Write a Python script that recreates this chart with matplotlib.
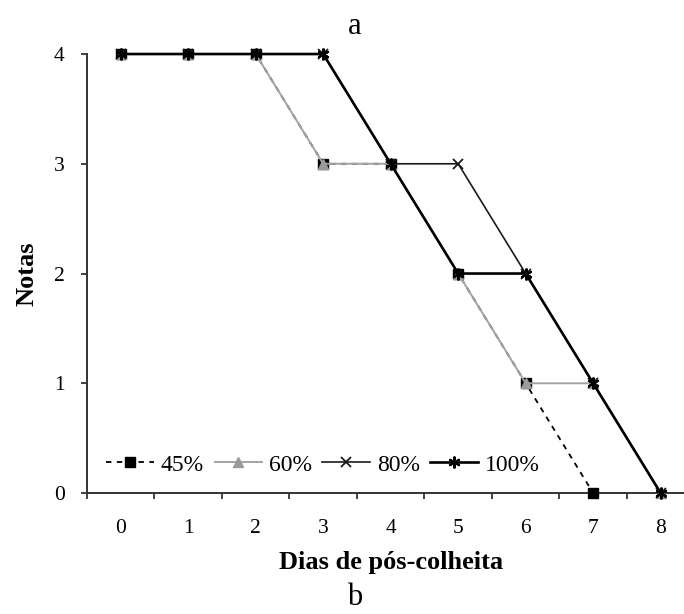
import matplotlib
matplotlib.use('Agg')
import matplotlib.pyplot as plt

plt.rcParams['font.family'] = ['Liberation Serif', 'DejaVu Serif']

# notas por dia de pós-colheita
dias = [0, 1, 2, 3, 4, 5, 6, 7, 8]
n45 = [4, 4, 4, 3, 3, 2, 1, 0]
n60 = [4, 4, 4, 3, 3, 2, 1, 1, 0]
n80 = [4, 4, 4, 4, 3, 3, 2, 1, 0]
n100 = [4, 4, 4, 4, 3, 2, 2, 1, 0]
labels = ['45%', '60%', '80%', '100%']

fig = plt.figure(figsize=(6.84, 6.14), dpi=100)
ax = fig.add_axes([0.1272, 0.197, 0.888, 0.715])

ax.plot(dias[:len(n45)], n45, color='black', lw=1.3, ls=(0, (3, 3)),
        marker='s', ms=6.5, mfc='black', mec='black', clip_on=False,
        label=labels[0], zorder=3)
ax.plot(dias, n60, color='#a3a3a3', lw=1.4, marker='^', ms=7.5,
        mfc='#9a9a9a', mec='#9a9a9a', clip_on=False, label=labels[1],
        zorder=4)
ax.plot(dias, n80, color='#1a1a1a', lw=1.2, marker='x', ms=7.5, mew=1.3,
        clip_on=False, label=labels[2], zorder=5)
ax.plot(dias, n100, color='black', lw=1.9, marker=(6, 2, 0), ms=8.5,
        mew=1.5, clip_on=False, label=labels[3], zorder=6)

ax.set_xlim(-0.5, 8.5)
ax.set_ylim(0, 4)
ax.set_yticks([0, 1, 2, 3, 4])
ax.set_xticks([x + 0.5 for x in range(-1, 9)])
ax.set_xticklabels([])
ax.set_xticks(dias, minor=True)
ax.set_xticklabels([str(d) for d in dias], minor=True)
ax.tick_params(axis='x', which='minor', length=0, pad=19, labelsize=15.5)
ax.tick_params(axis='x', which='major', length=4.5, width=1.3,
               direction='out', color='#333333')
ax.tick_params(axis='y', length=4.5, width=1.3, direction='out',
               color='#333333', labelsize=15.5, pad=11.5)

for s in ['top', 'right']:
    ax.spines[s].set_visible(False)
for s in ['left', 'bottom']:
    ax.spines[s].set_linewidth(1.4)
    ax.spines[s].set_color('#333333')

ax.set_xlabel('Dias de pós-colheita', fontsize=19, fontweight='bold',
              labelpad=9)
ax.set_ylabel('Notas', fontsize=19, fontweight='bold', labelpad=11)

ax.legend(loc='lower left', bbox_to_anchor=(0.0165, 0.018), ncol=4,
          frameon=False, fontsize=17, handlelength=2.0,
          columnspacing=0.45, handletextpad=0.3, borderaxespad=0)

fig.text(0.519, 0.957, 'a', fontsize=22, ha='center', va='center')
fig.text(0.519, 0.027, 'b', fontsize=22, ha='center', va='center')

fig.savefig('out.png', dpi=100)
